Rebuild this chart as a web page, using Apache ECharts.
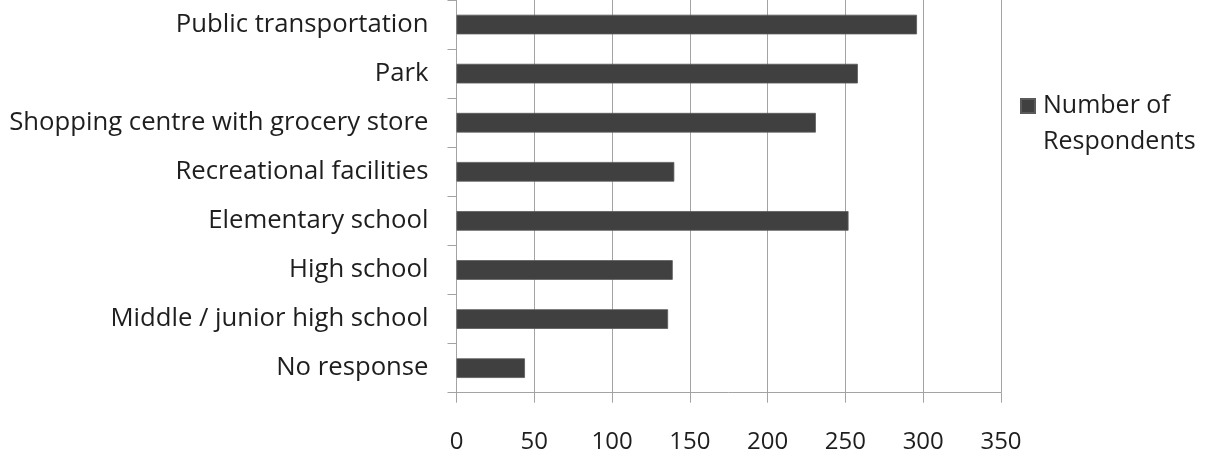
<!DOCTYPE html>
<html>
<head>
<meta charset="utf-8">
<script src="https://cdn.jsdelivr.net/npm/echarts@6/dist/echarts.min.js"></script>
<style>
  html, body { margin: 0; padding: 0; background: #fff; }
  #chart { width: 1205px; height: 456px; }
</style>
</head>
<body>
<div id="chart"></div>
<script>
  // amenities, top to bottom as in the picture
  var categories = [
    'Public transportation',
    'Park',
    'Shopping centre with grocery store',
    'Recreational facilities',
    'Elementary school',
    'High school',
    'Middle / junior high school',
    'No response'
  ]
  var respondents = [296, 258, 231, 140, 252, 139, 136, 44]
  var xTicks = [0, 50, 100, 150, 200, 250, 300, 350]

  var seriesName = 'Number of\nRespondents'
  var fontFamily = '"Open Sans", "Noto Sans", sans-serif'
  var gridColor = '#a3a3a3'

  var chart = echarts.init(document.getElementById('chart'))
  chart.setOption({
    animation: false,
    grid: {
      left: 456.5,
      right: 204,
      top: -1.5,
      bottom: 63.3,
      containLabel: false
    },
    legend: {
      data: [seriesName],
      left: 1020,
      top: 52,
      padding: 0,
      itemWidth: 14,
      itemHeight: 14,
      icon: 'rect',
      // empty first line so that "Number of" sits level with the swatch
      formatter: function (name) {
        return ' \n' + name
      },
      textStyle: {
        fontFamily: fontFamily,
        fontSize: 25,
        color: '#1e1e1e',
        lineHeight: 36,
        padding: [0, 0, 0, 3]
      }
    },
    xAxis: {
      type: 'value',
      min: xTicks[0],
      max: xTicks[xTicks.length - 1],
      interval: 50,
      axisLine: { show: true, lineStyle: { color: gridColor } },
      axisTick: { show: true, length: 10, lineStyle: { color: gridColor } },
      splitLine: { show: true, lineStyle: { color: gridColor, width: 1 } },
      axisLabel: {
        margin: 37,
        fontFamily: fontFamily,
        fontSize: 24,
        color: '#1e1e1e'
      }
    },
    yAxis: {
      type: 'category',
      inverse: true,
      data: categories,
      axisLine: { show: true, lineStyle: { color: gridColor } },
      axisTick: { show: true, length: 9, lineStyle: { color: gridColor } },
      axisLabel: {
        margin: 28,
        fontFamily: fontFamily,
        fontSize: 25.7,
        color: '#1e1e1e'
      }
    },
    series: [{
      name: seriesName,
      type: 'bar',
      data: respondents,
      barWidth: '40%',
      itemStyle: {
        color: '#404040',
        borderColor: '#5a5a5a',
        borderWidth: 0.8
      }
    }]
  })
</script>
</body>
</html>
